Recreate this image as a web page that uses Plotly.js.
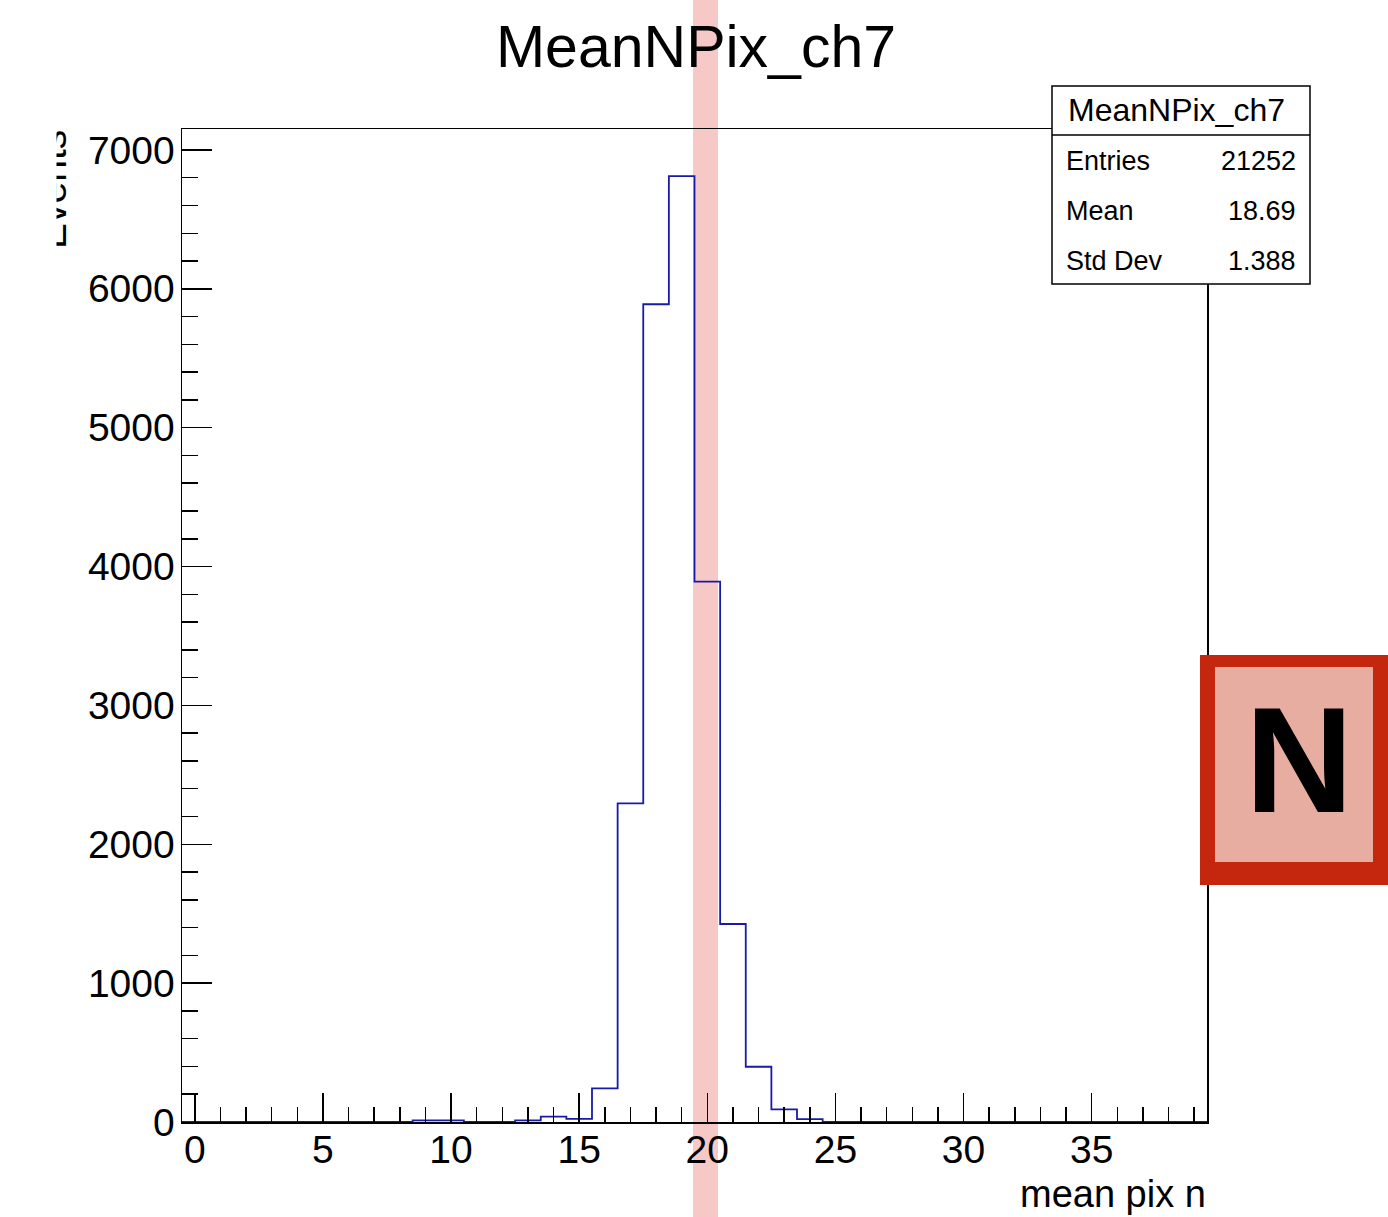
<!DOCTYPE html>
<html>
<head>
<meta charset="utf-8">
<script src="https://cdn.plot.ly/plotly-3.0.1.min.js"></script>
<style>html,body{margin:0;padding:0;background:#fff;}#chart{width:1388px;height:1217px;}</style>
</head>
<body>
<div id="chart"></div>
<script>
// ---- data ----
const binCenters = [0,1,2,3,4,5,6,7,8,9,10,11,12,13,14,15,16,17,18,19,20,21,22,23,24,25,26,27,28,29,30,31,32,33,34,35,36,37,38,39];
const binCounts  = [0,0,0,0,0,0,0,0,0,12,12,0,0,12,38,22,242,2295,5889,6812,3891,1426,398,91,21,0,0,0,0,0,0,0,0,0,0,0,0,0,0,0];
const binWidth = 1;
const histTitle = "MeanNPix_ch7";
const xTitle = "mean pix n";
const yTitle = "Events";
const statLabels = ["Entries", "Mean", "Std Dev"];
const statValues = ["21252", "18.69", "1.388"];

// step outline built from the bin arrays
const stepX = binCenters.map(c => c - binWidth / 2).concat([binCenters[binCenters.length - 1] + binWidth / 2]);
const stepY = binCounts.concat([binCounts[binCounts.length - 1]]);

// ---- pixel helpers for layout placement ----
const L = 182, R = 1207, T = 129, B = 1122;
const px = x => (x - L) / (R - L);
const py = y => (B - y) / (B - T);

const FONT = "Liberation Sans, Arial, Helvetica, sans-serif";

const trace = {
  type: "scatter",
  mode: "lines",
  x: stepX,
  y: stepY,
  line: { shape: "hv", color: "#1a1aaa", width: 1.8 },
  hoverinfo: "x+y",
  showlegend: false
};

const shapes = [
  // pink vertical stripe overlay (behind the data line and axes)
  { type: "rect", xref: "paper", yref: "paper", x0: px(693), x1: px(718), y0: py(1217), y1: py(0),
    fillcolor: "rgb(246,200,198)", line: { width: 0 }, layer: "below" },
  // stats box
  { type: "rect", xref: "paper", yref: "paper", x0: px(1052), x1: px(1310), y0: py(284), y1: py(86),
    fillcolor: "#ffffff", line: { color: "#000", width: 1.5 }, layer: "above" },
  { type: "line", xref: "paper", yref: "paper", x0: px(1052), x1: px(1310), y0: py(135), y1: py(135),
    line: { color: "#000", width: 1.5 }, layer: "above" },
  // N logo
  { type: "rect", xref: "paper", yref: "paper", x0: px(1200), x1: px(1388), y0: py(885), y1: py(655),
    fillcolor: "#c4260e", line: { width: 0 }, layer: "above" },
  { type: "rect", xref: "paper", yref: "paper", x0: px(1215), x1: px(1373), y0: py(862), y1: py(667),
    fillcolor: "#e8ada1", line: { width: 0 }, layer: "above" }
];

const annotations = [
  // y-axis title (partly clipped in the reference)
  { text: yTitle, xref: "paper", yref: "paper", x: px(76), y: py(128), xanchor: "right", yanchor: "top",
    textangle: -90, showarrow: false, font: { family: FONT, size: 39, color: "#000" } },
  // white cover producing the clipped look
  { text: "", xref: "paper", yref: "paper", x: px(0), y: py(110), xanchor: "left", yanchor: "top",
    width: 55, height: 160, bgcolor: "#ffffff", showarrow: false, borderpad: 0 },
  // x-axis title
  { text: xTitle, xref: "paper", yref: "paper", x: 1, y: py(1194), xanchor: "right", yanchor: "middle",
    showarrow: false, borderpad: 0, font: { family: FONT, size: 38, color: "#000" } },
  // stats header
  { text: histTitle, xref: "paper", yref: "paper", x: px(1176), y: py(110), xanchor: "center", yanchor: "middle",
    showarrow: false, font: { family: FONT, size: 32, color: "#000" } },
  // N logo letter
  { text: "<b>N</b>", xref: "paper", yref: "paper", x: px(1299), y: py(760), xanchor: "center", yanchor: "middle",
    showarrow: false, font: { family: "Liberation Sans Narrow, Liberation Sans, Arial, sans-serif", size: 150, color: "#000" } }
];
const rowY = [161, 211, 261];
statLabels.forEach((lab, i) => {
  annotations.push({ text: lab, xref: "paper", yref: "paper", x: px(1064), y: py(rowY[i]), xanchor: "left", yanchor: "middle",
    showarrow: false, font: { family: FONT, size: 27, color: "#000" } });
  annotations.push({ text: statValues[i], xref: "paper", yref: "paper", x: px(1298), y: py(rowY[i]), xanchor: "right", yanchor: "middle",
    showarrow: false, font: { family: FONT, size: 27, color: "#000" } });
});

const layout = {
  width: 1388,
  height: 1217,
  margin: { l: L, r: 1388 - R, t: T, b: 1217 - B, pad: 0 },
  paper_bgcolor: "#fff",
  plot_bgcolor: "rgba(0,0,0,0)",
  showlegend: false,
  title: { text: histTitle, x: 696 / 1388, xanchor: "center", y: 1 - 46 / 1217, yanchor: "middle",
           font: { family: FONT, size: 59, color: "#000" } },
  xaxis: {
    range: [-0.5, 39.5],
    tick0: 0, dtick: 5,
    ticks: "inside", ticklen: 29, tickwidth: 1.5, tickcolor: "#000",
    minor: { dtick: 1, tick0: 0, ticks: "inside", ticklen: 15, tickwidth: 1.5, tickcolor: "#000", showgrid: false },
    showgrid: false, zeroline: false,
    showline: true, linecolor: "#000", linewidth: 1.5, mirror: true,
    tickfont: { family: FONT, size: 39, color: "#000" },
    ticklabelstandoff: -7
  },
  yaxis: {
    range: [0, 7151],
    tick0: 0, dtick: 1000,
    ticks: "inside", ticklen: 30, tickwidth: 1.5, tickcolor: "#000",
    minor: { dtick: 200, tick0: 0, ticks: "inside", ticklen: 16, tickwidth: 1.5, tickcolor: "#000", showgrid: false },
    showgrid: false, zeroline: false,
    showline: true, linecolor: "#000", linewidth: 1.5, mirror: true,
    tickfont: { family: FONT, size: 39, color: "#000" },
    ticklabelstandoff: -2
  },
  shapes: shapes,
  annotations: annotations
};

Plotly.newPlot("chart", [trace], layout, { displayModeBar: false, staticPlot: true });
</script>
</body>
</html>
